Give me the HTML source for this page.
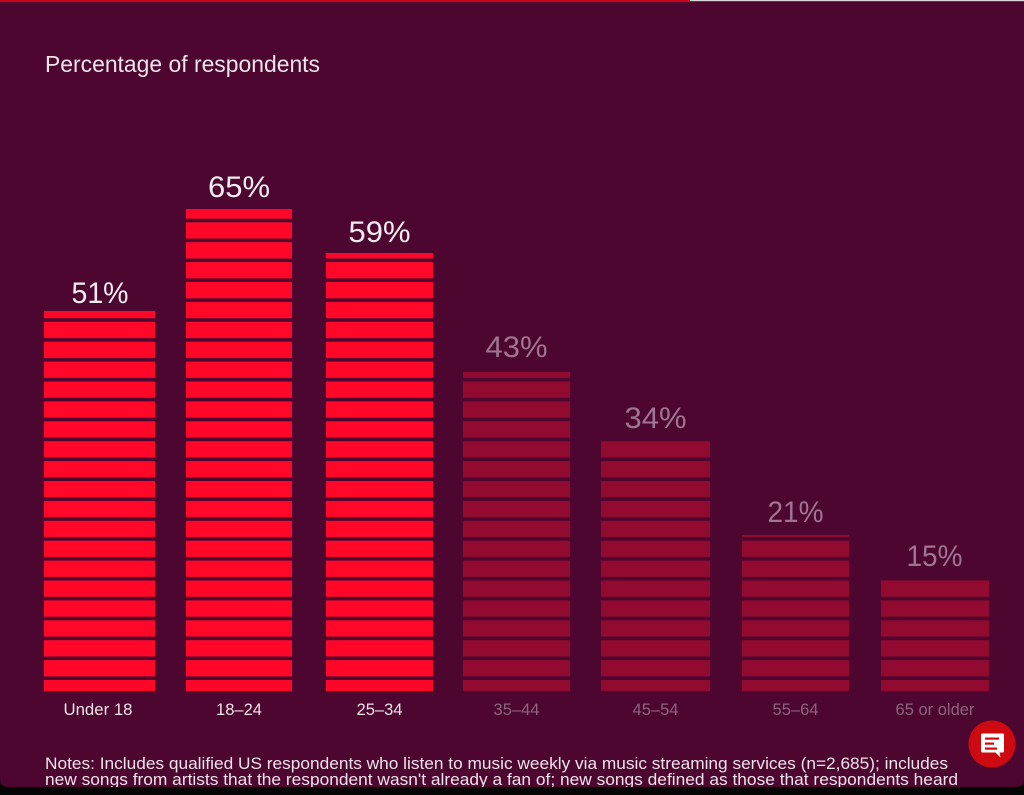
<!DOCTYPE html>
<html>
<head>
<meta charset="utf-8">
<style>
  html,body{margin:0;padding:0;background:#000;}
  body{width:1024px;height:795px;overflow:hidden;position:relative;}
  svg{display:block;position:absolute;left:0;top:0;}
  text{font-family:"Liberation Sans",sans-serif;}
</style>
</head>
<body>
<svg width="1024" height="795" viewBox="0 0 1024 795" xmlns="http://www.w3.org/2000/svg">
  <defs>
    <pattern id="stripeR" patternUnits="userSpaceOnUse" x="0" y="3.4" width="1024" height="19.9">
      <rect x="0" y="0" width="1024" height="16.3" fill="#FF0729"/>
    </pattern>
    <pattern id="stripeD" patternUnits="userSpaceOnUse" x="0" y="3.4" width="1024" height="19.9">
      <rect x="0" y="0" width="1024" height="16.3" fill="#920A2F"/>
    </pattern>
  </defs>
  <rect x="0" y="0" width="1024" height="795" fill="#050505"/>
  <path d="M0 0 H1024 V779 Q1024 787 1016 787 H8 Q0 787 0 779 Z" fill="#4D0630"/>
  <!-- top line -->
  <rect x="0" y="0" width="1024" height="1.2" fill="#d9d4d6"/>
  <rect x="0" y="0" width="690" height="2" fill="#D0021B"/>

  <text x="45" y="72" font-size="23" fill="#EDE3EA" textLength="275" lengthAdjust="spacingAndGlyphs">Percentage of respondents</text>

  <!-- bars -->
  <rect x="44" y="311" width="111" height="380" fill="url(#stripeR)"/>
  <rect x="186" y="209" width="106" height="482" fill="url(#stripeR)"/>
  <rect x="326" y="253" width="107" height="438" fill="url(#stripeR)"/>
  <rect x="463" y="372" width="107" height="319" fill="url(#stripeD)"/>
  <rect x="601" y="441" width="109" height="250" fill="url(#stripeD)"/>
  <rect x="742" y="535" width="107" height="156" fill="url(#stripeD)"/>
  <rect x="881" y="580.5" width="108" height="110.5" fill="url(#stripeD)"/>

  <!-- value labels -->
  <g font-size="30" text-anchor="middle">
    <text x="100" y="303" fill="#F3ECF0" textLength="57" lengthAdjust="spacingAndGlyphs">51%</text>
    <text x="239" y="197" fill="#F3ECF0" textLength="62" lengthAdjust="spacingAndGlyphs">65%</text>
    <text x="379.5" y="242" fill="#F3ECF0" textLength="62" lengthAdjust="spacingAndGlyphs">59%</text>
    <text x="516.5" y="357" fill="#9E7593" textLength="62" lengthAdjust="spacingAndGlyphs">43%</text>
    <text x="655.5" y="428" fill="#9E7593" textLength="62" lengthAdjust="spacingAndGlyphs">34%</text>
    <text x="795.5" y="522" fill="#9E7593" textLength="56" lengthAdjust="spacingAndGlyphs">21%</text>
    <text x="934.5" y="566" fill="#9E7593" textLength="56" lengthAdjust="spacingAndGlyphs">15%</text>
  </g>

  <!-- category labels -->
  <g font-size="16.5" text-anchor="middle">
    <text x="98" y="715" fill="#EDE3EA" textLength="69" lengthAdjust="spacingAndGlyphs">Under 18</text>
    <text x="239" y="715" fill="#EDE3EA">18–24</text>
    <text x="379.5" y="715" fill="#EDE3EA">25–34</text>
    <text x="516.5" y="715" fill="#8C6482">35–44</text>
    <text x="655.5" y="715" fill="#8C6482">45–54</text>
    <text x="795.5" y="715" fill="#8C6482">55–64</text>
    <text x="935" y="715" fill="#8C6482">65 or older</text>
  </g>

  <!-- notes -->
  <text x="45" y="769" font-size="16.5" fill="#EDE3EA" textLength="903" lengthAdjust="spacingAndGlyphs">Notes: Includes qualified US respondents who listen to music weekly via music streaming services (n=2,685); includes</text>
  <text x="45" y="785" font-size="16.5" fill="#EDE3EA" textLength="913" lengthAdjust="spacingAndGlyphs">new songs from artists that the respondent wasn't already a fan of; new songs defined as those that respondents heard</text>

  <!-- black bottom band -->
  <path d="M0 787 H1024 V795 H0 Z" fill="#050505"/>
  <path d="M0 779 Q0 787 8 787 H0 Z" fill="#050505"/>

  <!-- chat button -->
  <circle cx="992" cy="744" r="23.5" fill="#CC0A10"/>
  <path d="M981.5 733.5 h21 a1.5 1.5 0 0 1 1.5 1.5 v16 a1.5 1.5 0 0 1 -1.5 1.5 h-3 l1 5 l-5 -5 h-13 a1.5 1.5 0 0 1 -1.5 -1.5 v-16 a1.5 1.5 0 0 1 1.5 -1.5 z" fill="#ffffff"/>
  <rect x="985" y="737.5" width="14" height="2.2" fill="#CC0A10"/>
  <rect x="985" y="742.5" width="9" height="2.2" fill="#CC0A10"/>
  <rect x="985" y="747.5" width="12" height="2.2" fill="#CC0A10"/>
</svg>
</body>
</html>
